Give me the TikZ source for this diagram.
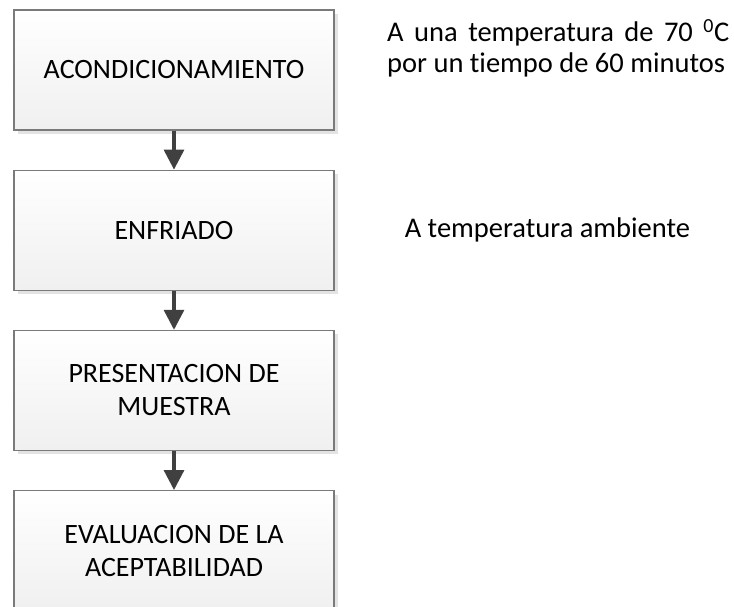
\documentclass[tikz,border=0pt]{standalone}
\usepackage{fontspec}
\setmainfont{Carlito}[Ligatures=NoCommon]
\usepackage{tikz}
\usetikzlibrary{positioning,shadows,arrows.meta}

\definecolor{bordegris}{HTML}{7A7A7A}
\definecolor{flechagris}{HTML}{404040}

\begin{document}
\begin{tikzpicture}[x=1pt,y=-1pt,
  pasobox/.style={draw=bordegris,line width=1.2pt,align=center,
    minimum height=120pt,minimum width=320pt,
    font=\fontsize{28}{33}\selectfont,
    top color=white,bottom color=gray!12,
    drop shadow={shadow xshift=4pt,shadow yshift=-4pt,fill=gray!22,opacity=1}},
  flecha/.style={draw=flechagris,line width=3.2pt,
    -{Triangle[width=20pt,length=20pt]}},
  nota/.style={inner sep=0pt,font=\fontsize{28.5}{31}\selectfont}]
\useasboundingbox (0,0) rectangle (734,606);
\node[pasobox] (acond) at (174,70) {ACONDICIONAMIENTO};
\node[pasobox,below = 39pt of acond] (enfr) {ENFRIADO};
\node[pasobox,below = 39pt of enfr] (present) {PRESENTACION DE\\MUESTRA};
\node[pasobox,below = 39pt of present] (evalu) {EVALUACION DE LA\\ACEPTABILIDAD};
\draw[flecha] (acond) -- (enfr);
\draw[flecha] (enfr) -- (present);
\draw[flecha] (present) -- (evalu);
\node[nota,text width=342pt,align=justify,anchor=base west] (nota1) at (387,41.5)
  {A una temperatura de 70 \textsuperscript{0}C\linebreak por un tiempo de 60 minutos};
\node[nota,right = 70pt of enfr] (nota2) {A temperatura ambiente};
\end{tikzpicture}
\end{document}
